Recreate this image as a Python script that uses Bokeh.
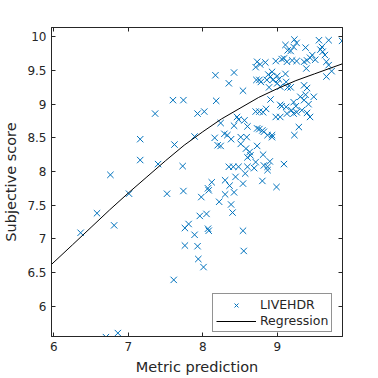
from bokeh.plotting import figure
from bokeh.models import Range1d, FixedTicker, LinearAxis, CustomJSTickFormatter, Legend, LegendItem
from bokeh.embed import file_html
from bokeh.resources import INLINE

# Scatter data (metric prediction, subjective score)
metric_pred = [
    6.36, 6.58, 6.76, 6.81, 7.01, 6.70, 6.86, 7.16, 7.16, 7.36, 7.40, 7.52, 7.60, 7.62, 7.61,
    7.74, 7.73, 7.74, 7.76, 7.76, 7.81, 7.89, 7.89, 7.93, 8.02, 7.93, 7.94, 8.01, 7.96, 8.05,
    7.98, 8.07, 8.08, 8.12, 8.07, 8.08, 8.17, 8.18, 8.16, 8.20, 8.24, 8.22, 8.24, 8.35, 8.42,
    8.54, 8.29, 8.33, 8.38, 8.35, 8.41, 8.48, 8.30, 8.36, 8.42, 8.30, 8.38, 8.40, 8.44, 8.54,
    8.55, 8.42, 8.46, 8.48, 8.51, 8.51, 8.54, 8.57, 8.60, 8.56, 8.60, 8.59, 8.58, 8.63, 8.64,
    8.60, 8.71, 8.73, 8.69, 8.71, 8.76, 8.81, 8.73, 8.76, 8.80, 8.82, 8.85, 8.87, 8.93, 8.93,
    8.81, 8.82, 8.87, 8.87, 8.90, 8.80, 8.99, 9.09, 8.91, 8.98, 9.04, 9.06, 9.04, 9.12, 9.13,
    9.19, 9.22, 9.26, 9.22, 9.23, 9.29, 9.25, 9.33, 9.36, 9.31, 9.38, 9.40, 9.36, 9.40, 9.44,
    9.49, 9.42,
    8.73, 8.77, 8.71, 8.84, 8.76, 8.78, 8.72, 8.86, 8.88, 8.91, 8.93, 8.94, 8.98, 9.00, 9.02,
    9.00, 8.89, 9.04, 9.06, 9.09, 9.11, 9.14, 9.13, 9.11, 9.12, 9.14, 9.18, 9.20, 9.22, 9.23,
    9.26, 9.18, 9.26, 9.38, 9.40, 9.36, 9.39, 9.44, 9.47, 9.51, 9.56, 9.60, 9.61, 9.64, 9.69,
    9.66, 9.69, 9.66, 9.73, 9.87, 9.58,
]
subjective = [
    7.09, 7.38, 7.95, 7.20, 7.67, 5.54, 5.60, 8.48, 8.17, 8.86, 8.11, 7.67, 9.06, 8.40, 6.39,
    9.06, 8.08, 7.71, 7.16, 6.90, 7.22, 7.06, 8.52, 8.86, 8.89, 6.89, 6.70, 6.58, 7.34, 7.37,
    7.62, 7.75, 7.72, 7.84, 7.15, 7.12, 9.43, 9.05, 8.50, 8.39, 8.38, 7.55, 8.72, 9.31, 9.47,
    9.20, 8.56, 8.54, 8.48, 8.07, 8.07, 8.07, 7.87, 7.79, 7.69, 7.66, 7.51, 7.39, 7.92, 7.12,
    6.82, 8.68, 8.81, 8.77, 8.51, 8.41, 7.82, 7.97, 8.07, 8.76, 8.67, 8.51, 8.34, 8.29, 8.24,
    8.21, 8.14, 8.38, 8.05, 8.89, 8.89, 8.88, 8.64, 8.63, 8.61, 8.59, 8.93, 8.54, 8.54, 8.51,
    8.25, 8.09, 8.07, 8.02, 8.15, 7.86, 7.77, 8.11, 9.07, 8.81, 8.99, 8.97, 8.81, 8.96, 8.86,
    8.91, 8.86, 8.88, 9.03, 8.54, 8.66, 8.97, 8.91, 9.06, 9.11, 9.14, 9.24, 9.28, 8.87, 8.81,
    9.11, 9.00,
    9.63, 9.59, 9.55, 9.62, 9.36, 9.33, 9.36, 9.36, 9.44, 9.41, 9.48, 9.36, 9.64, 9.42, 9.37,
    9.31, 9.25, 9.26, 9.67, 9.68, 9.88, 9.80, 9.63, 9.45, 9.33, 9.25, 9.25, 9.65, 9.85, 9.96,
    9.91, 9.79, 9.64, 9.84, 9.65, 9.63, 9.53, 9.69, 9.73, 9.66, 9.95, 9.85, 9.78, 9.73, 9.95,
    9.63, 9.58, 9.41, 9.49, 9.94, 9.81,
]

# Regression curve
reg_x = [5.969, 6.25, 6.5, 6.75, 7.0, 7.25, 7.5, 7.75, 8.0, 8.25, 8.5, 8.75, 9.0, 9.25, 9.5, 9.75, 9.876]
reg_y = [6.62, 6.91, 7.17, 7.43, 7.68, 7.92, 8.16, 8.39, 8.59, 8.78, 8.94, 9.10, 9.23, 9.35, 9.45, 9.55, 9.60]

x_ticks = [6, 7, 8, 9]
y_ticks = [6, 6.5, 7, 7.5, 8, 8.5, 9, 9.5, 10]

TXT = "#262626"
BLUE = "#0072BD"
FONT = "DejaVu Sans"

p = figure(width=378, height=378, output_backend="svg", toolbar_location=None,
           x_range=Range1d(5.969, 9.876), y_range=Range1d(5.549, 10.139),
           min_border_left=49, min_border_right=36, min_border_top=27, min_border_bottom=42)
p.grid.visible = False
p.outline_line_color = TXT
p.outline_line_width = 1
p.background_fill_color = "white"
p.border_fill_color = "white"

fmt = CustomJSTickFormatter(code="return tick.toString();")

for ax, ticks in ((p.xaxis[0], x_ticks), (p.yaxis[0], y_ticks)):
    ax.ticker = FixedTicker(ticks=ticks)
    ax.formatter = fmt
    ax.minor_tick_line_color = None
    ax.major_tick_in = 4
    ax.major_tick_out = 0
    ax.axis_line_color = TXT
    ax.major_tick_line_color = TXT
    ax.major_label_text_font = FONT
    ax.major_label_text_font_size = "12px"
    ax.major_label_text_color = TXT
    ax.axis_label_text_font = FONT
    ax.axis_label_text_font_size = "14.5px"
    ax.axis_label_text_font_style = "normal"
    ax.axis_label_text_color = TXT
    ax.major_label_standoff = 5

p.xaxis[0].axis_label = "Metric prediction"
p.yaxis[0].axis_label = "Subjective score"
p.yaxis[0].axis_label_standoff = 5
p.xaxis[0].axis_label_standoff = 5

# mirrored axes (ticks only, no labels)
top = LinearAxis(ticker=FixedTicker(ticks=x_ticks), major_label_text_color=None,
                 minor_tick_line_color=None, major_tick_in=4, major_tick_out=0,
                 axis_line_color=TXT, major_tick_line_color=TXT, major_label_standoff=0)
right = LinearAxis(ticker=FixedTicker(ticks=y_ticks), major_label_text_color=None,
                   minor_tick_line_color=None, major_tick_in=4, major_tick_out=0,
                   axis_line_color=TXT, major_tick_line_color=TXT, major_label_standoff=0)
p.add_layout(top, "above")
p.add_layout(right, "right")

sc = p.scatter(metric_pred, subjective, marker="x", size=9, line_color=BLUE, line_width=1)
ln = p.line(reg_x, reg_y, line_color="black", line_width=1)

legend = Legend(items=[LegendItem(label="LIVEHDR", renderers=[sc]),
                       LegendItem(label="Regression", renderers=[ln])],
                location=(161, 4), label_text_font=FONT, label_text_font_size="12.5px",
                label_text_color=TXT, border_line_color=TXT, border_line_width=1,
                background_fill_alpha=1, glyph_width=40, glyph_height=14, label_height=14,
                label_standoff=4, spacing=1, padding=3, margin=0)
p.add_layout(legend, "center")

open("out.html", "w").write(file_html(p, INLINE))
